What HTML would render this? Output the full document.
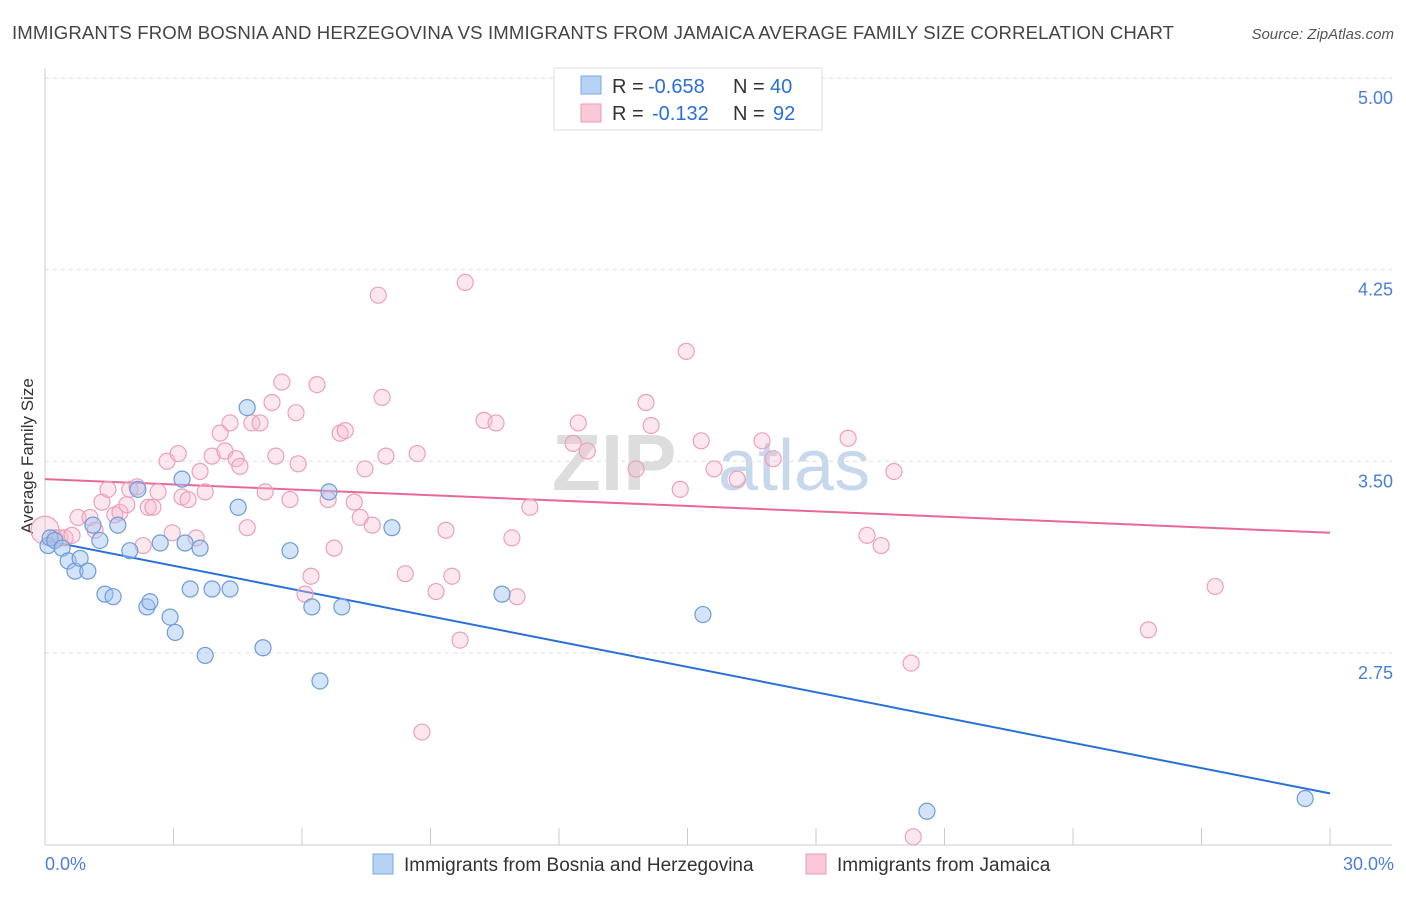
<!DOCTYPE html>
<html><head><meta charset="utf-8"><style>
body{margin:0;background:#fff;font-family:"Liberation Sans",sans-serif;}
svg text{font-family:"Liberation Sans",sans-serif;}
</style></head><body>
<svg id="chart" width="1406" height="892" xmlns="http://www.w3.org/2000/svg">
<text x="12" y="39" font-size="18.6" fill="#444" textLength="1162">IMMIGRANTS FROM BOSNIA AND HERZEGOVINA VS IMMIGRANTS FROM JAMAICA AVERAGE FAMILY SIZE CORRELATION CHART</text>
<text x="1394" y="39" font-size="15" fill="#555" text-anchor="end" font-style="italic">Source: ZipAtlas.com</text>
<text x="33" y="456" font-size="17" fill="#333" text-anchor="middle" transform="rotate(-90 33 456)">Average Family Size</text>
<g><text x="552" y="490" font-size="80" fill="#ddd" font-family="Liberation Serif" font-weight="bold">ZIP</text><text x="718" y="490" font-size="72" fill="#c8d8ec">atlas</text></g>
<g id="grid"></g><g id="axes"></g><g id="lines"></g><g id="pts"></g>
<g>
<rect x="554" y="68" width="268" height="62" fill="#fff" stroke="#ddd"/>
<rect x="581" y="76" width="20" height="18" fill="#b8d2f5" stroke="#7fa8e0"/>
<rect x="581" y="104" width="20" height="18" fill="#fbc8d8" stroke="#e99ab4"/>
<g font-size="20" fill="#333">
<text x="612" y="93">R =</text><text x="648" y="93" fill="#2a6fd8">-0.658</text><text x="733" y="93">N =</text><text x="770" y="93" fill="#2a6fd8">40</text>
<text x="612" y="120">R =</text><text x="652" y="120" fill="#2a6fd8">-0.132</text><text x="733" y="120">N =</text><text x="773" y="120" fill="#2a6fd8">92</text>
</g>
</g>
<g>
<rect x="373" y="854" width="20" height="20" fill="#b8d2f5" stroke="#7fa8e0"/>
<text x="404" y="871" font-size="19" fill="#333">Immigrants from Bosnia and Herzegovina</text>
<rect x="806" y="854" width="20" height="20" fill="#fbc8d8" stroke="#e99ab4"/>
<text x="837" y="871" font-size="19" fill="#333">Immigrants from Jamaica</text>
</g>
</svg>
<script>
const yTicks=[5.00,4.25,3.50,2.75];
const xTickLabels=["0.0%","30.0%"];
const blueX=[0.07,0.12,0.23,0.40,0.54,0.70,0.82,1.00,1.12,1.28,1.40,1.59,1.70,1.98,2.17,2.38,2.45,2.69,2.92,3.04,3.20,3.27,3.39,3.62,3.74,3.90,4.32,4.51,4.72,5.09,5.72,6.23,6.42,6.63,6.93,8.10,10.67,15.36,20.59,29.42];
const blueY=[3.17,3.20,3.19,3.16,3.11,3.07,3.12,3.07,3.25,3.19,2.98,2.97,3.25,3.15,3.39,2.93,2.95,3.18,2.89,2.83,3.43,3.18,3.00,3.16,2.74,3.00,3.00,3.32,3.71,2.77,3.15,2.93,2.64,3.38,2.93,3.24,2.98,2.90,2.13,2.18];
const pinkX=[0,0.23,0.35,0.47,0.63,0.77,1.05,1.17,1.33,1.47,1.63,1.75,1.91,1.98,2.15,2.29,2.41,2.52,2.64,2.85,2.97,3.11,3.20,3.34,3.53,3.62,3.74,3.90,4.09,4.20,4.32,4.46,4.55,4.72,4.83,5.02,5.14,5.30,5.39,5.53,5.72,5.86,5.91,6.07,6.21,6.35,6.61,6.75,6.89,7.01,7.22,7.36,7.47,7.64,7.78,7.87,7.96,8.41,8.69,8.80,9.13,9.36,9.50,9.69,9.81,10.25,10.53,10.90,11.02,11.32,12.33,12.45,12.66,13.80,14.03,14.15,14.83,14.97,15.32,15.62,16.16,16.74,17.00,18.75,19.19,19.52,19.82,20.22,20.27,25.76,27.32];
const pinkY=[3.23,3.20,3.20,3.20,3.21,3.28,3.28,3.23,3.34,3.39,3.29,3.30,3.33,3.39,3.40,3.17,3.32,3.32,3.38,3.50,3.22,3.53,3.36,3.35,3.20,3.46,3.38,3.52,3.61,3.54,3.65,3.51,3.48,3.24,3.65,3.65,3.38,3.73,3.52,3.81,3.35,3.69,3.49,2.98,3.05,3.80,3.35,3.16,3.61,3.62,3.34,3.28,3.47,3.25,4.15,3.75,3.52,3.06,3.53,2.44,2.99,3.23,3.05,2.80,4.20,3.66,3.65,3.20,2.97,3.32,3.57,3.65,3.54,3.47,3.73,3.64,3.39,3.93,3.58,3.47,3.43,3.58,3.51,3.59,3.21,3.17,3.46,2.71,2.03,2.84,3.01];
const blueTrend=[3.19,2.20];
const pinkTrend=[3.43,3.22];
const NS="http://www.w3.org/2000/svg";
const sx=v=>45+v/30*1285;
const sy=v=>78+(5-v)*255.5;
function mk(tag,attrs,parent){const e=document.createElementNS(NS,tag);for(const k in attrs)e.setAttribute(k,attrs[k]);document.getElementById(parent).appendChild(e);return e;}
yTicks.forEach(t=>{
 const l=mk('line',{x1:45,x2:1392,y1:sy(t),y2:sy(t),stroke:'#ddd','stroke-dasharray':'4,4'},'grid');
 
 
 const tx=mk('text',{x:1393,y:sy(t)+26,'font-size':18,fill:'#4a7fd6','text-anchor':'end'},'grid');
 tx.textContent=t.toFixed(2);
 
 
});
const ax=mk('line',{x1:45,x2:1392,y1:845,y2:845,stroke:'#ccc'},'axes');


const ay=mk('line',{x1:45,x2:45,y1:68,y2:845,stroke:'#ccc'},'axes');


for(let i=0;i<=10;i++){const t=mk('line',{x1:sx(i*3),x2:sx(i*3),y1:828,y2:845,stroke:'#ccc'},'axes');
 
 }
const xl0=mk('text',{x:45,y:870,'font-size':18,fill:'#4a7fd6'},'axes');xl0.textContent=xTickLabels[0];


const xl1=mk('text',{x:1394,y:870,'font-size':18,fill:'#4a7fd6','text-anchor':'end'},'axes');xl1.textContent=xTickLabels[1];


pinkX.forEach((x,i)=>{const c=mk('circle',{cx:sx(x),cy:sy(pinkY[i]),r:i===0?14:8,fill:'rgba(248,185,205,0.35)',stroke:'#eba0ba','stroke-width':1.2},'pts');
 
 });
blueX.forEach((x,i)=>{const c=mk('circle',{cx:sx(x),cy:sy(blueY[i]),r:8,fill:'rgba(160,195,240,0.45)',stroke:'#6f9bd8','stroke-width':1.2},'pts');
 
 });
const bl=mk('line',{x1:sx(0),x2:sx(30),y1:sy(blueTrend[0]),y2:sy(blueTrend[1]),stroke:'#2a6fd8','stroke-width':2},'lines');


const pl=mk('line',{x1:sx(0),x2:sx(30),y1:sy(pinkTrend[0]),y2:sy(pinkTrend[1]),stroke:'#e8689a','stroke-width':2},'lines');


</script>
</body></html>
